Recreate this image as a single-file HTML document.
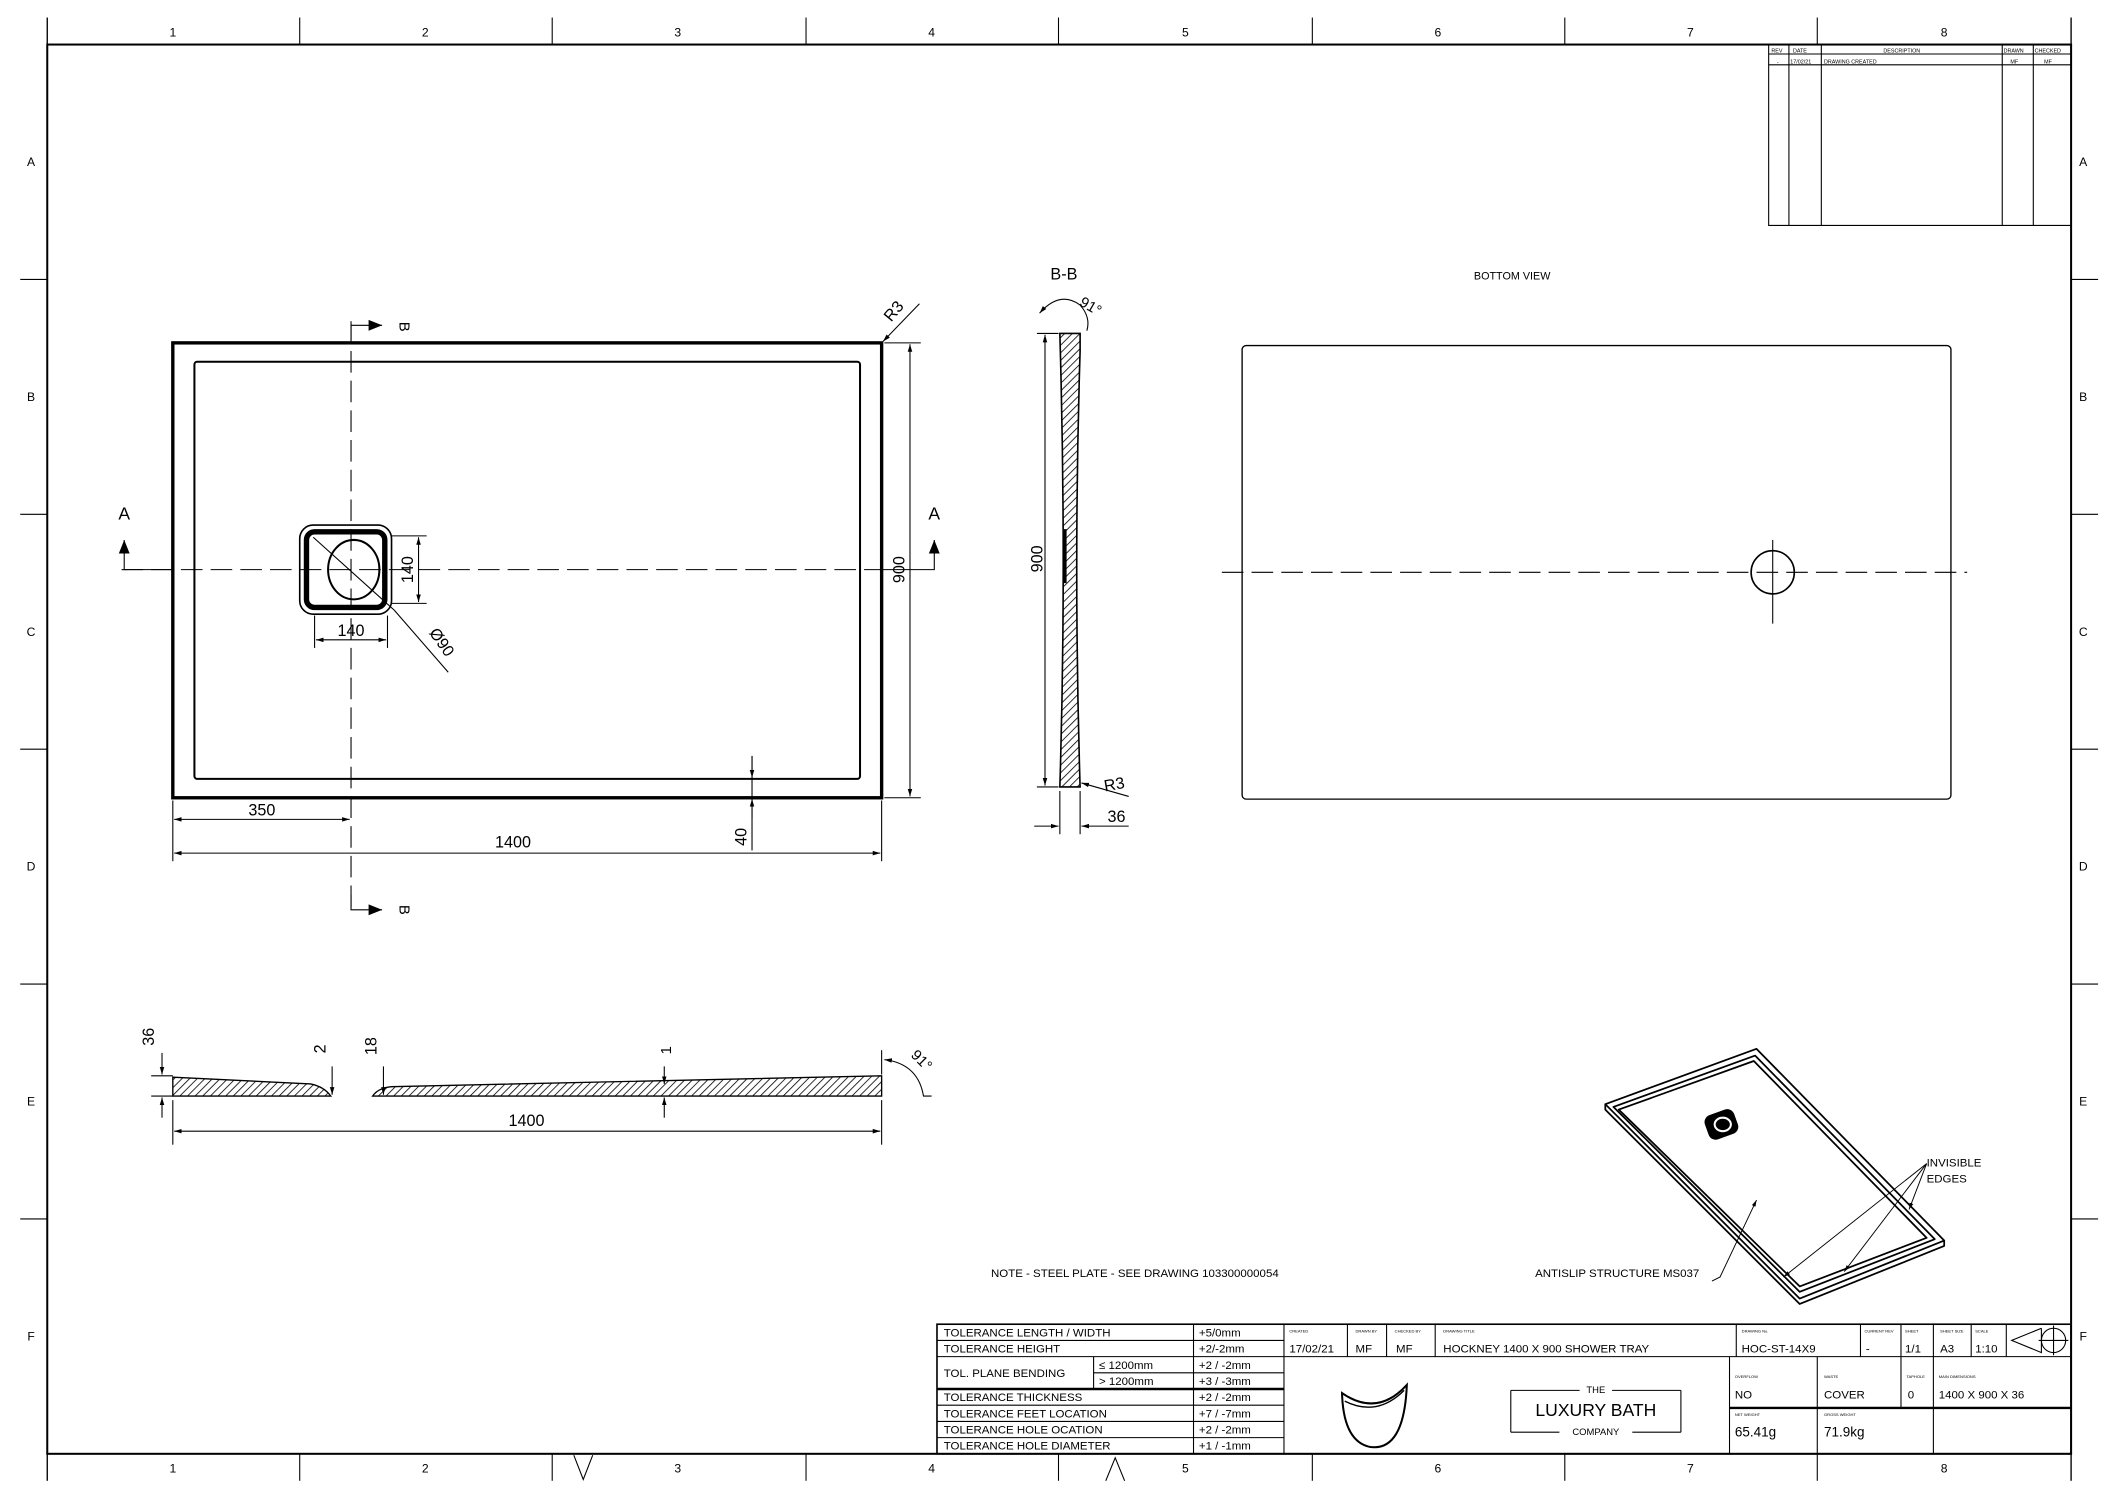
<!DOCTYPE html>
<html><head><meta charset="utf-8"><style>
html,body{margin:0;padding:0;background:#fff;}
svg{display:block;}
text{font-family:"Liberation Sans",Arial,sans-serif;fill:#000;}
</style></head><body>
<svg width="2117" height="1497" viewBox="0 0 1568 1109" preserveAspectRatio="none" xmlns="http://www.w3.org/2000/svg">
<defs>
<pattern id="h" width="4" height="4" patternUnits="userSpaceOnUse" patternTransform="rotate(45)"><line x1="0" y1="0" x2="0" y2="4" stroke="#000" stroke-width="1.2"/></pattern>
<marker id="ar" viewBox="0 0 10 10" refX="10" refY="5" markerWidth="7" markerHeight="7" orient="auto-start-reverse"><path d="M0,2 L10,5 L0,8 z" fill="#000"/></marker>
<marker id="big" viewBox="0 0 10 10" refX="10" refY="5" markerWidth="10" markerHeight="10" markerUnits="userSpaceOnUse" orient="auto"><path d="M0,1 L10,5 L0,9 z" fill="#000"/></marker>
</defs>
<g fill="none" stroke="#000">
<rect x="35" y="33" width="1499" height="1044" stroke-width="1.5"/>
<line x1="35" y1="13" x2="35" y2="33"/><line x1="1534" y1="13" x2="1534" y2="33"/>
<line x1="35" y1="1077" x2="35" y2="1097"/><line x1="1534" y1="1077" x2="1534" y2="1097"/>
<g stroke-width="0.8">
<line x1="222" y1="13" x2="222" y2="33"/><line x1="409" y1="13" x2="409" y2="33"/><line x1="597" y1="13" x2="597" y2="33"/><line x1="784" y1="13" x2="784" y2="33"/><line x1="972" y1="13" x2="972" y2="33"/><line x1="1159" y1="13" x2="1159" y2="33"/><line x1="1346" y1="13" x2="1346" y2="33"/>
<line x1="222" y1="1077" x2="222" y2="1097"/><line x1="409" y1="1077" x2="409" y2="1097"/><line x1="597" y1="1077" x2="597" y2="1097"/><line x1="784" y1="1077" x2="784" y2="1097"/><line x1="972" y1="1077" x2="972" y2="1097"/><line x1="1159" y1="1077" x2="1159" y2="1097"/><line x1="1346" y1="1077" x2="1346" y2="1097"/>
<line x1="15" y1="207" x2="35" y2="207"/><line x1="15" y1="381" x2="35" y2="381"/><line x1="15" y1="555" x2="35" y2="555"/><line x1="15" y1="729" x2="35" y2="729"/><line x1="15" y1="903" x2="35" y2="903"/>
<line x1="1534" y1="207" x2="1554" y2="207"/><line x1="1534" y1="381" x2="1554" y2="381"/><line x1="1534" y1="555" x2="1554" y2="555"/><line x1="1534" y1="729" x2="1554" y2="729"/><line x1="1534" y1="903" x2="1554" y2="903"/>
<polyline points="425,1078 432,1096 439,1078"/><polyline points="819,1097 826,1080 833,1097"/>
</g>
<g stroke-width="0.8">
<polyline points="1310,33 1310,167 1534,167"/>
<line x1="1310" y1="40" x2="1534" y2="40"/><line x1="1310" y1="48" x2="1534" y2="48"/>
<line x1="1325" y1="33" x2="1325" y2="167"/><line x1="1349" y1="33" x2="1349" y2="167"/><line x1="1483" y1="33" x2="1483" y2="167"/><line x1="1506" y1="33" x2="1506" y2="167"/>
</g>
<!-- plan view -->
<rect x="128" y="254" width="525" height="337" stroke-width="2.5"/>
<rect x="144" y="268" width="493" height="309" rx="2" stroke-width="1.5"/>
<line x1="90" y1="422" x2="650" y2="422" stroke-width="0.8" stroke-dasharray="16,6"/>
<line x1="260" y1="238" x2="260" y2="676" stroke-width="0.8" stroke-dasharray="16,6"/>
<polyline points="128,422 92,422 92,400" stroke-width="0.8" marker-end="url(#big)"/>
<polyline points="650,422 692,422 692,400" stroke-width="0.8" marker-end="url(#big)"/>
<polyline points="260,252 260,241 283,241" stroke-width="0.8" marker-end="url(#big)"/>
<polyline points="260,663 260,674 283,674" stroke-width="0.8" marker-end="url(#big)"/>
<rect x="222" y="389" width="68" height="66" rx="10" stroke-width="1.2"/>
<rect x="227" y="394" width="58" height="56" rx="6" stroke-width="4"/>
<ellipse cx="262" cy="422" rx="19" ry="22" stroke-width="1.5"/>
<line x1="232" y1="398" x2="292" y2="452" stroke-width="0.8"/>
<line x1="292" y1="452" x2="332" y2="498" stroke-width="0.8"/>
<g stroke-width="0.8">
<line x1="290" y1="397" x2="316" y2="397"/><line x1="290" y1="447" x2="316" y2="447"/>
<line x1="310" y1="398" x2="310" y2="446" marker-start="url(#ar)" marker-end="url(#ar)"/>
<line x1="233" y1="456" x2="233" y2="480"/><line x1="287" y1="456" x2="287" y2="480"/>
<line x1="234" y1="474" x2="286" y2="474" marker-start="url(#ar)" marker-end="url(#ar)"/>
<line x1="128" y1="593" x2="128" y2="638"/><line x1="653" y1="593" x2="653" y2="638"/>
<line x1="129" y1="607" x2="259" y2="607" marker-start="url(#ar)" marker-end="url(#ar)"/>
<line x1="129" y1="632" x2="652" y2="632" marker-start="url(#ar)" marker-end="url(#ar)"/>
<line x1="655" y1="254" x2="682" y2="254"/><line x1="655" y1="591" x2="682" y2="591"/>
<line x1="674" y1="255" x2="674" y2="590" marker-start="url(#ar)" marker-end="url(#ar)"/>
<line x1="557" y1="560" x2="557" y2="630"/>
<line x1="557" y1="560" x2="557" y2="576" marker-end="url(#ar)"/>
<line x1="557" y1="606" x2="557" y2="592" marker-end="url(#ar)"/>
<line x1="681" y1="225" x2="654" y2="253" marker-end="url(#ar)"/>
</g>
<!-- section B-B -->
<path d="M785,247 L800,247 L800,260 Q795,420 800,583 L785,583 Q790,420 785,247 Z" fill="url(#h)" stroke-width="1.2"/>
<line x1="789" y1="392" x2="789" y2="432" stroke-width="2"/>
<g stroke-width="0.8">
<line x1="768" y1="247" x2="784" y2="247"/><line x1="768" y1="583" x2="784" y2="583"/>
<line x1="774" y1="248" x2="774" y2="582" marker-start="url(#ar)" marker-end="url(#ar)"/>
<line x1="785" y1="586" x2="785" y2="618"/><line x1="800" y1="586" x2="800" y2="618"/>
<line x1="766" y1="612" x2="784" y2="612" marker-end="url(#ar)"/>
<line x1="836" y1="612" x2="801" y2="612" marker-end="url(#ar)"/>
<path d="M770,232 Q785,215 800,226 Q808,235 805,245" marker-start="url(#ar)"/>
<line x1="836" y1="590" x2="801" y2="580" marker-end="url(#ar)"/>
</g>
<!-- bottom view -->
<rect x="920" y="256" width="525" height="336" rx="3" stroke-width="1"/>
<line x1="905" y1="424" x2="1457" y2="424" stroke-width="0.8" stroke-dasharray="16,6"/>
<circle cx="1313" cy="424" r="16" stroke-width="1.2"/>
<line x1="1313" y1="400" x2="1313" y2="462" stroke-width="0.8"/>
<!-- section A-A -->
<path d="M128,798 L230,803 Q240,805 245,812 L128,812 Z" fill="url(#h)" stroke-width="1"/>
<path d="M276,812 Q280,806 290,805 L653,797 L653,812 Z" fill="url(#h)" stroke-width="1"/>
<g stroke-width="0.8">
<line x1="112" y1="797" x2="128" y2="797"/><line x1="112" y1="812" x2="128" y2="812"/>
<line x1="120" y1="780" x2="120" y2="796" marker-end="url(#ar)"/>
<line x1="120" y1="828" x2="120" y2="813" marker-end="url(#ar)"/>
<line x1="246" y1="790" x2="246" y2="811" marker-end="url(#ar)"/>
<line x1="284" y1="790" x2="284" y2="811" marker-end="url(#ar)"/>
<line x1="492" y1="790" x2="492" y2="803" marker-end="url(#ar)"/>
<line x1="492" y1="828" x2="492" y2="813" marker-end="url(#ar)"/>
<line x1="128" y1="815" x2="128" y2="848"/><line x1="653" y1="815" x2="653" y2="848"/>
<line x1="129" y1="838" x2="652" y2="838" marker-start="url(#ar)" marker-end="url(#ar)"/>
<line x1="653" y1="778" x2="653" y2="796"/>
<path d="M655,785 Q680,788 684,812 L690,812" marker-start="url(#ar)"/>
</g>
<!-- iso view -->
<g stroke-width="1.3" stroke-linejoin="round">
<polygon points="1189,818 1301,777 1440,919 1333,962"/>
<polyline points="1189,818 1189,822 1333,966 1440,923 1440,919"/>
<polygon points="1195,820 1300,782 1433,918 1333,957"/>
<polygon points="1199,822 1299,786 1427,917 1333,953"/>
</g>
<rect x="1264" y="824" width="22" height="18" rx="5" transform="rotate(-20 1275 833)" fill="#000"/>
<ellipse cx="1276" cy="833" rx="6" ry="5" stroke="#fff" stroke-width="1.5"/>
<g stroke-width="0.7">
<polyline points="1268,949 1274,946 1301,889" marker-end="url(#ar)"/>
<line x1="1427" y1="862" x2="1321" y2="946" marker-end="url(#ar)"/>
<line x1="1427" y1="862" x2="1366" y2="942" marker-end="url(#ar)"/>
<line x1="1427" y1="862" x2="1414" y2="896" marker-end="url(#ar)"/>
</g>
<!-- title block -->
<g stroke-width="0.8">
<rect x="694" y="981" width="840" height="96" stroke-width="1.2"/>
<line x1="694" y1="993" x2="951" y2="993"/><line x1="694" y1="1005" x2="951" y2="1005"/><line x1="810" y1="1017" x2="951" y2="1017"/>
<line x1="694" y1="1029" x2="951" y2="1029" stroke-width="1.8"/>
<line x1="694" y1="1041" x2="951" y2="1041"/><line x1="694" y1="1053" x2="951" y2="1053"/><line x1="694" y1="1065" x2="951" y2="1065"/>
<line x1="884" y1="981" x2="884" y2="1077"/><line x1="810" y1="1005" x2="810" y2="1029"/><line x1="951" y1="981" x2="951" y2="1077"/>
<line x1="951" y1="1005" x2="1534" y2="1005"/>
<line x1="998" y1="981" x2="998" y2="1005"/><line x1="1027" y1="981" x2="1027" y2="1005"/><line x1="1063" y1="981" x2="1063" y2="1005"/>
<line x1="1286" y1="981" x2="1286" y2="1005"/><line x1="1378" y1="981" x2="1378" y2="1005"/><line x1="1408" y1="981" x2="1408" y2="1005"/><line x1="1432" y1="981" x2="1432" y2="1005"/><line x1="1460" y1="981" x2="1460" y2="1005"/><line x1="1486" y1="981" x2="1486" y2="1005"/>
<line x1="1281" y1="1005" x2="1281" y2="1077"/><line x1="1346" y1="1005" x2="1346" y2="1077"/><line x1="1408" y1="1005" x2="1408" y2="1043"/><line x1="1432" y1="1005" x2="1432" y2="1077"/>
<line x1="1281" y1="1043" x2="1534" y2="1043" stroke-width="1.8"/>
<line x1="1119" y1="1030" x2="1245" y2="1030"/><line x1="1119" y1="1030" x2="1119" y2="1061"/><line x1="1245" y1="1030" x2="1245" y2="1061"/><line x1="1119" y1="1061" x2="1245" y2="1061"/>
<polyline points="1512,984 1490,993 1512,1002 1512,984"/>
<circle cx="1521" cy="993" r="9"/><line x1="1510" y1="993" x2="1532" y2="993"/><line x1="1521" y1="982" x2="1521" y2="1004"/>
</g>
<path d="M994,1032 Q1020,1050 1042,1026 Q1040,1075 1015,1072 Q995,1068 994,1032 Z" stroke-width="1.5"/>
<path d="M996,1038 Q1020,1050 1040,1030" stroke-width="1"/>
</g>
<g font-size="9" text-anchor="middle">
<text x="128" y="27">1</text><text x="315" y="27">2</text><text x="502" y="27">3</text><text x="690" y="27">4</text><text x="878" y="27">5</text><text x="1065" y="27">6</text><text x="1252" y="27">7</text><text x="1440" y="27">8</text>
<text x="128" y="1091">1</text><text x="315" y="1091">2</text><text x="502" y="1091">3</text><text x="690" y="1091">4</text><text x="878" y="1091">5</text><text x="1065" y="1091">6</text><text x="1252" y="1091">7</text><text x="1440" y="1091">8</text>
<text x="23" y="123">A</text><text x="23" y="297">B</text><text x="23" y="471">C</text><text x="23" y="645">D</text><text x="23" y="819">E</text><text x="23" y="993">F</text>
<text x="1543" y="123">A</text><text x="1543" y="297">B</text><text x="1543" y="471">C</text><text x="1543" y="645">D</text><text x="1543" y="819">E</text><text x="1543" y="993">F</text>
</g>
<g font-size="4">
<text x="1312" y="39">REV</text><text x="1328" y="39">DATE</text><text x="1395" y="39">DESCRIPTION</text><text x="1484" y="39">DRAWN</text><text x="1507" y="39">CHECKED</text>
<text x="1316" y="47">-</text><text x="1326" y="47">17/02/21</text><text x="1351" y="47">DRAWING CREATED</text><text x="1489" y="47">MF</text><text x="1514" y="47">MF</text>
</g>
<g font-size="13" text-anchor="middle">
<text x="92" y="385">A</text><text x="692" y="385">A</text>
<text transform="translate(296,242) rotate(90)" font-size="11">B</text>
<text transform="translate(296,674) rotate(90)" font-size="11">B</text>
<text x="194" y="604" font-size="12">350</text>
<text x="380" y="628" font-size="12">1400</text>
<text x="260" y="471" font-size="12">140</text>
<text transform="translate(306,422) rotate(-90)" font-size="12">140</text>
<text transform="translate(670,422) rotate(-90)" font-size="12">900</text>
<text transform="translate(553,620) rotate(-90)" font-size="12">40</text>
<text transform="translate(324,478) rotate(55)" font-size="12">Ø90</text>
<text transform="translate(665,233) rotate(-50)" font-size="12">R3</text>
<text x="788" y="207" font-size="12">B-B</text>
<text transform="translate(772,414) rotate(-90)" font-size="12">900</text>
<text x="827" y="609" font-size="12">36</text>
<text transform="translate(826,585) rotate(-10)" font-size="12">R3</text>
<text transform="translate(806,230) rotate(30)" font-size="11">91°</text>
<text x="1120" y="207" font-size="8">BOTTOM VIEW</text>
<text transform="translate(114,768) rotate(-90)" font-size="12">36</text>
<text transform="translate(241,777) rotate(-90)" font-size="12">2</text>
<text transform="translate(279,775) rotate(-90)" font-size="12">18</text>
<text transform="translate(497,778) rotate(-90)" font-size="11">1</text>
<text x="390" y="834" font-size="12">1400</text>
<text transform="translate(680,788) rotate(45)" font-size="11">91°</text>
</g>
<g font-size="8.5">
<text x="734" y="946">NOTE - STEEL PLATE - SEE DRAWING 103300000054</text>
<text x="1137" y="946">ANTISLIP STRUCTURE MS037</text>
<text x="1427" y="864">INVISIBLE</text><text x="1427" y="876">EDGES</text>
<text x="699" y="990">TOLERANCE LENGTH / WIDTH</text>
<text x="699" y="1002">TOLERANCE HEIGHT</text>
<text x="699" y="1020">TOL. PLANE BENDING</text>
<text x="814" y="1014">≤  1200mm</text><text x="814" y="1026">&gt;  1200mm</text>
<text x="699" y="1038">TOLERANCE THICKNESS</text>
<text x="699" y="1050">TOLERANCE FEET LOCATION</text>
<text x="699" y="1062">TOLERANCE HOLE OCATION</text>
<text x="699" y="1074">TOLERANCE HOLE DIAMETER</text>
<text x="888" y="990">+5/0mm</text><text x="888" y="1002">+2/-2mm</text><text x="888" y="1014">+2 / -2mm</text><text x="888" y="1026">+3 / -3mm</text>
<text x="888" y="1038">+2 / -2mm</text><text x="888" y="1050">+7 / -7mm</text><text x="888" y="1062">+2 / -2mm</text><text x="888" y="1074">+1 / -1mm</text>
<text x="955" y="1002">17/02/21</text><text x="1004" y="1002">MF</text><text x="1034" y="1002">MF</text>
<text x="1069" y="1002">HOCKNEY 1400 X 900 SHOWER TRAY</text>
<text x="1290" y="1002">HOC-ST-14X9</text><text x="1382" y="1002">-</text><text x="1411" y="1002">1/1</text><text x="1437" y="1002">A3</text><text x="1463" y="1002">1:10</text>
<text x="1285" y="1036">NO</text><text x="1351" y="1036">COVER</text><text x="1413" y="1036">0</text><text x="1436" y="1036">1400 X 900 X 36</text>
<text x="1285" y="1064" font-size="10">65.41g</text><text x="1351" y="1064" font-size="10">71.9kg</text>
</g>
<g font-size="3">
<text x="955" y="987">CREATED</text><text x="1004" y="987">DRAWN BY</text><text x="1033" y="987">CHECKED BY</text><text x="1069" y="987">DRAWING TITLE</text>
<text x="1290" y="987">DRAWING No.</text><text x="1381" y="987">CURRENT REV</text><text x="1411" y="987">SHEET</text><text x="1437" y="987">SHEET SIZE</text><text x="1463" y="987">SCALE</text>
<text x="1285" y="1021">OVERFLOW</text><text x="1351" y="1021">WASTE</text><text x="1412" y="1021">TAPHOLE</text><text x="1436" y="1021">MAIN DIMENSIONS</text>
<text x="1285" y="1049">NET WEIGHT</text><text x="1351" y="1049">GROSS WEIGHT</text>
</g>
<g text-anchor="middle">
<rect x="1170" y="1026" width="24" height="8" fill="#fff"/>
<text x="1182" y="1032" font-size="7">THE</text>
<text x="1182" y="1049" font-size="13">LUXURY BATH</text>
<rect x="1155" y="1057" width="54" height="8" fill="#fff"/>
<text x="1182" y="1063" font-size="7">COMPANY</text>
</g>
</svg>
</body></html>
